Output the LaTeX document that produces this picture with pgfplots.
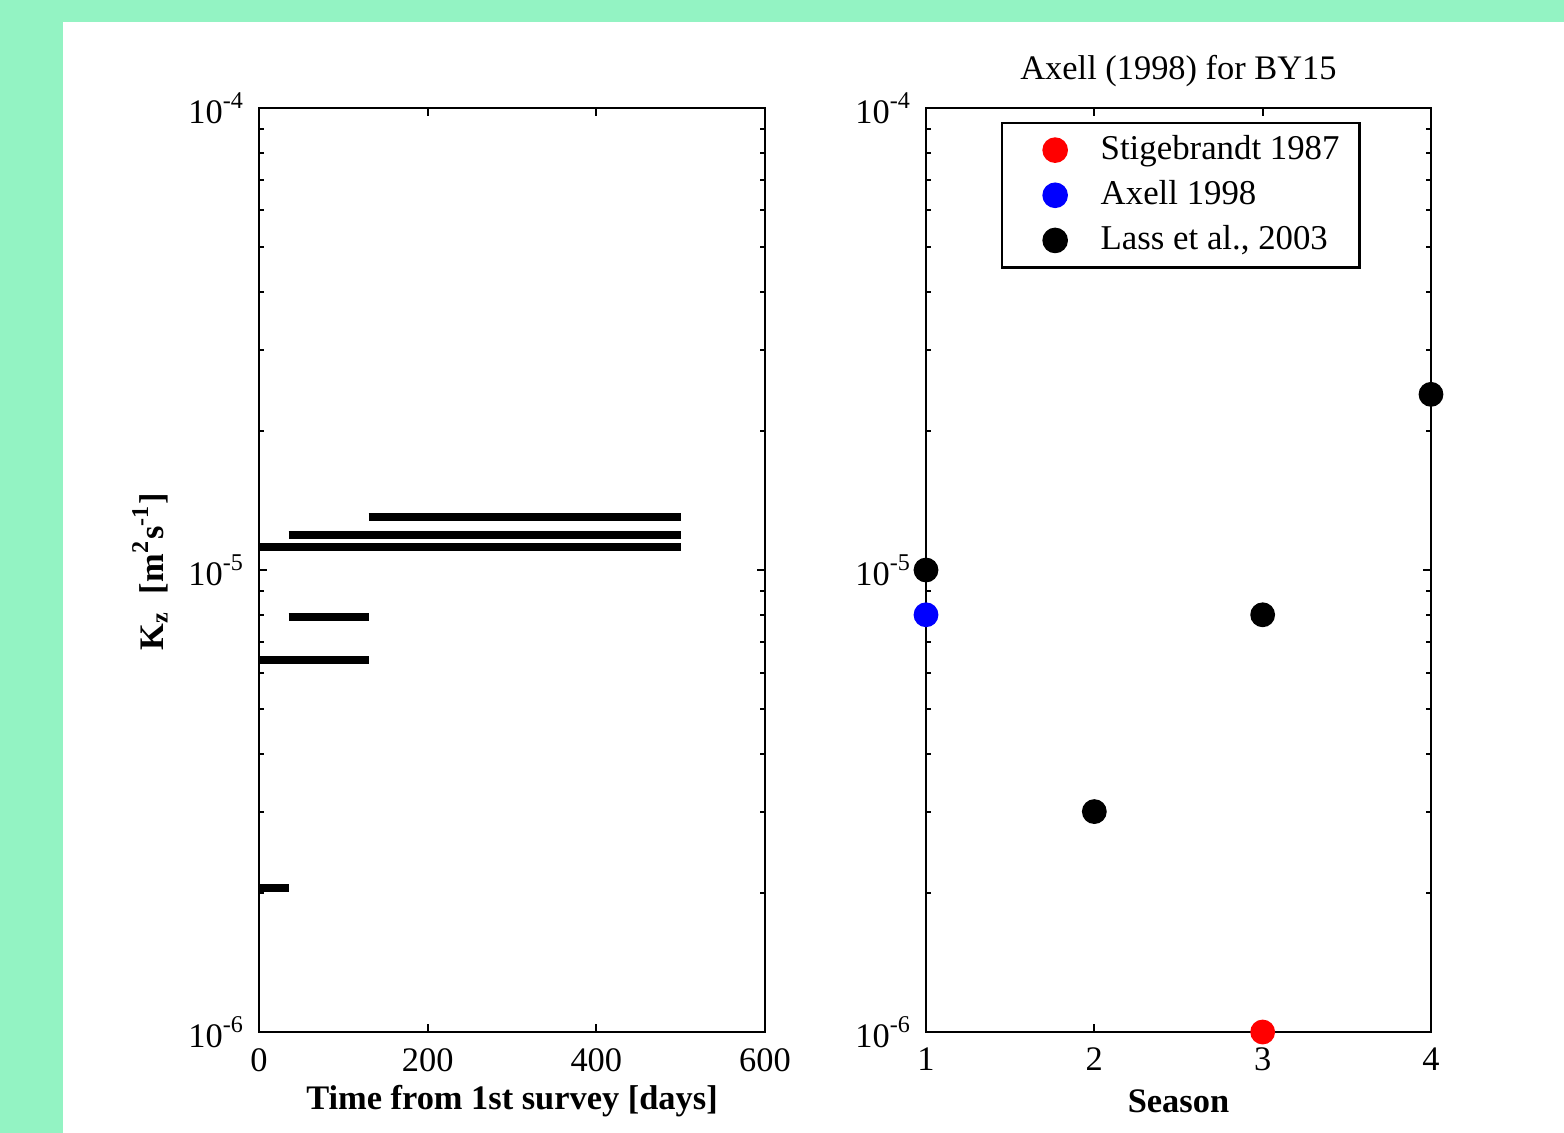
\documentclass[border=0pt]{standalone}
\usepackage{pgfplots}
\pgfplotsset{compat=1.18}
\usepackage{fontspec}
\setmainfont{Liberation Serif}
\definecolor{bgg}{RGB}{147,243,195}
\begin{document}
\begin{tikzpicture}
\fill[bgg] (0,0) rectangle (391pt,283.25pt);
\fill[white] (15.75pt,0) rectangle (391pt,277.75pt);
\begin{axis}[at={(64.75pt,25.25pt)}, anchor=south west, scale only axis, width=126.5pt, height=231pt,
  font=\fontsize{8.6}{10}\selectfont,
  ymode=log, ymin=1e-6, ymax=1e-4,
  ytick={1e-6,1e-5,1e-4},
  yticklabels={10\textsuperscript{-6},10\textsuperscript{-5},10\textsuperscript{-4}},
  tick align=inside, major tick length=2pt, minor tick length=1.2pt,
  every tick/.style={black, line width=0.5pt},
  axis line style={line width=0.7pt},
  xticklabel style={yshift=-0.5pt},
  every axis x label/.style={at={(axis description cs:0.5,-0.0747)}, anchor=center},
  xmin=0, xmax=600, xtick={0,200,400,600}, xticklabels={0,200,400,600},
  xlabel={\textbf{Time from 1st survey [days]}},
  ylabel={\textbf{K\textsubscript{z}\ \ [m\textsuperscript{2}s\textsuperscript{-1}]}},
  every axis y label/.style={at={(axis description cs:-0.215,0.498)}, anchor=center, rotate=90},
]
\addplot[black, line width=2pt] coordinates {(130,1.3e-5) (500,1.3e-5)};
\addplot[black, line width=2pt] coordinates {(35,1.19e-5) (500,1.19e-5)};
\addplot[black, line width=2pt] coordinates {(0,1.12e-5) (500,1.12e-5)};
\addplot[black, line width=2pt] coordinates {(35,7.9e-6) (130,7.9e-6)};
\addplot[black, line width=2pt] coordinates {(0,6.4e-6) (130,6.4e-6)};
\addplot[black, line width=2pt] coordinates {(0,2.05e-6) (35,2.05e-6)};
\end{axis}
\begin{axis}[at={(231.5pt,25.25pt)}, anchor=south west, scale only axis, width=126.25pt, height=231pt,
  font=\fontsize{8.6}{10}\selectfont,
  ymode=log, ymin=1e-6, ymax=1e-4,
  ytick={1e-6,1e-5,1e-4},
  yticklabels={10\textsuperscript{-6},10\textsuperscript{-5},10\textsuperscript{-4}},
  tick align=inside, major tick length=2pt, minor tick length=1.2pt,
  every tick/.style={black, line width=0.5pt},
  axis line style={line width=0.7pt},
  xticklabel style={yshift=-0.5pt},
  every axis x label/.style={at={(axis description cs:0.5,-0.0747)}, anchor=center},
  every axis title shift=0pt,
  title style={at={(axis description cs:0.5,1.040)}, anchor=center},
  xmin=1, xmax=4, xtick={1,2,3,4}, xticklabels={1,2,3,4},
  xlabel={\textbf{Season}},
  title={Axell (1998) for BY15},
  clip=false,
  legend style={at={(0.1485,0.985)}, anchor=north west, draw=black, line width=0.6pt,
    font=\fontsize{8.7}{10}\selectfont, row sep=-0.25pt, inner xsep=3pt, inner ysep=1pt},
  legend cell align=left,
  legend image code/.code={\path (0cm,0cm) (0.69cm,0cm); \draw[#1,draw=none] plot coordinates {(0.36cm,0cm)};},
]
\addplot[draw=none, mark=*, mark size=2.9pt, color=red] coordinates {(3,1e-6)};
\addlegendentry{Stigebrandt 1987}
\addplot[draw=none, mark=*, mark size=2.9pt, color=blue] coordinates {(1,8e-6)};
\addlegendentry{Axell 1998}
\addplot[draw=none, mark=*, mark size=2.9pt, color=black] coordinates {(1,1e-5) (2,3e-6) (3,8e-6) (4,2.4e-5)};
\addlegendentry{Lass et al., 2003}
\end{axis}
\end{tikzpicture}
\end{document}
